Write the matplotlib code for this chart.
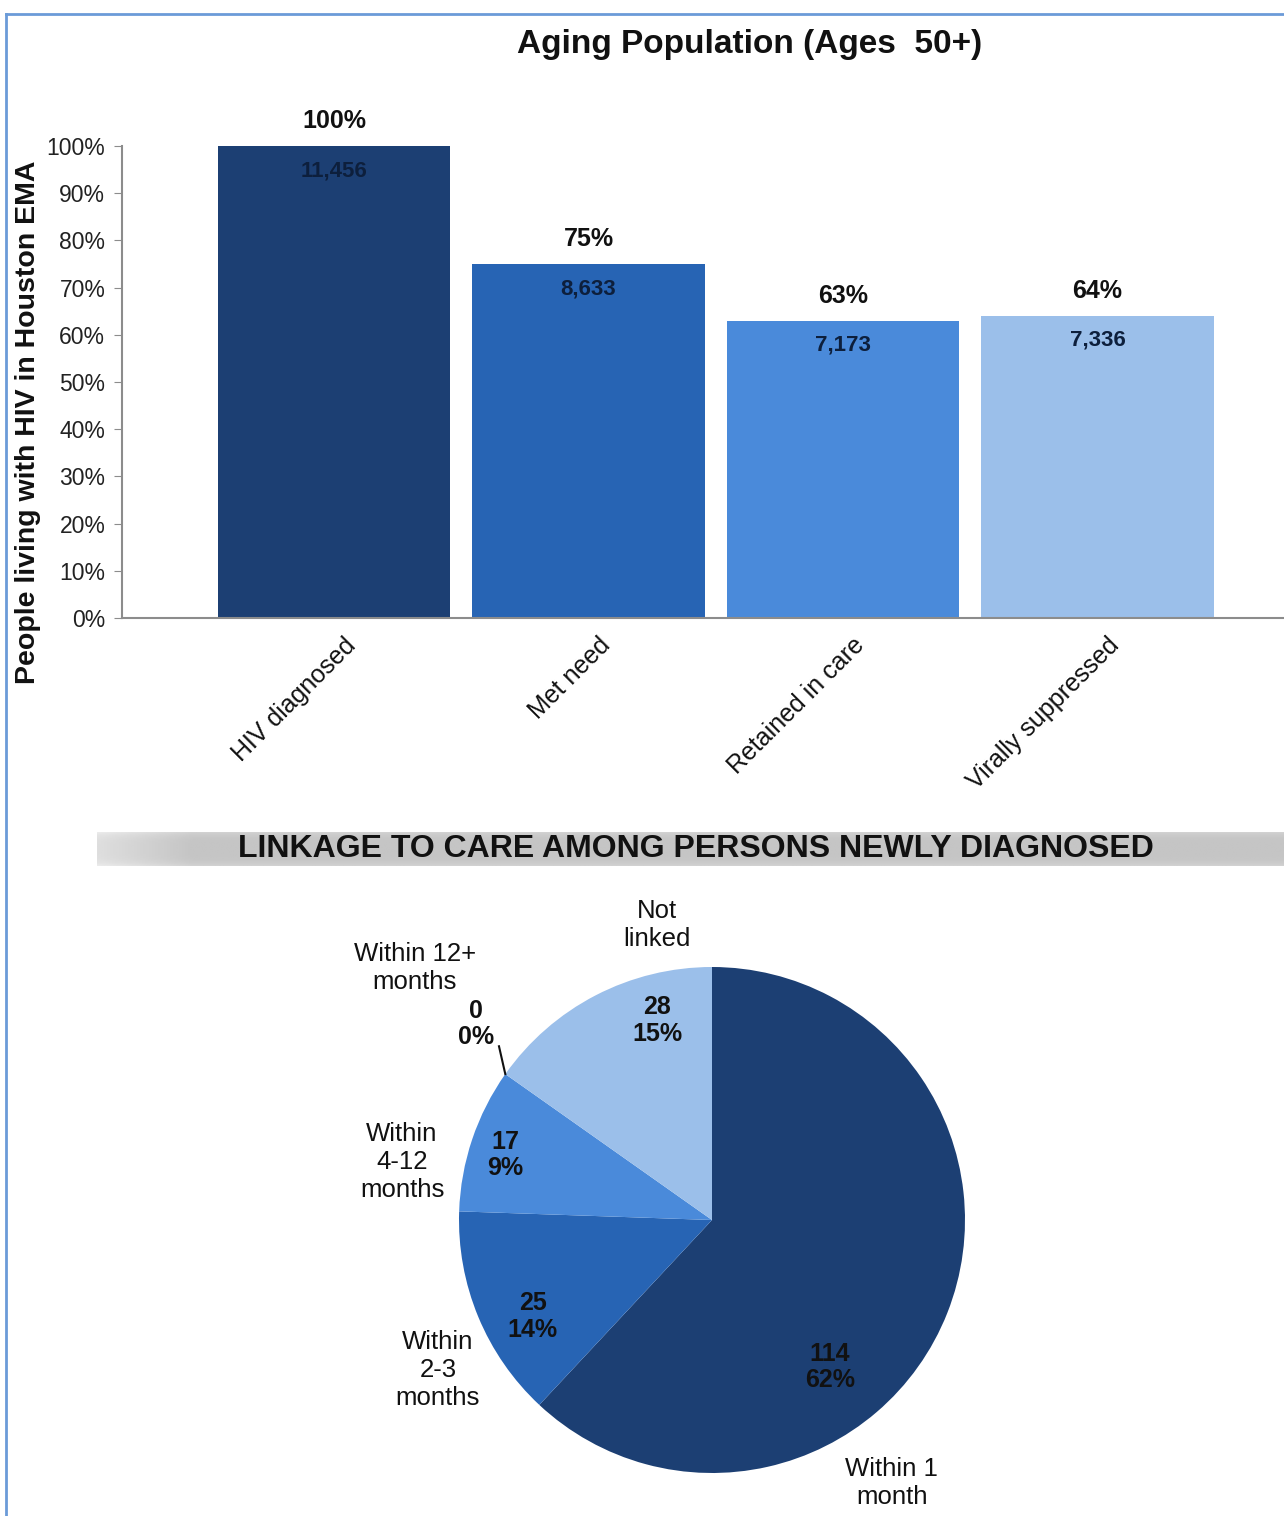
import matplotlib.pyplot as plt
import numpy as np
from matplotlib.lines import Line2D

plt.rcParams['font.family'] = ['Liberation Sans', 'DejaVu Sans']

# care continuum, ages 50+
stages = ['HIV diagnosed', 'Met need', 'Retained in care', 'Virally suppressed']
stage_pct = [100, 75, 63, 64]
stage_counts = [11456, 8633, 7173, 7336]
bar_colors = ['#1c3f73', '#2764b4', '#4a8ada', '#9bbfea']

# linkage to care among newly diagnosed
link_names = ['Within 1\nmonth', 'Within\n2-3\nmonths', 'Within\n4-12\nmonths',
              'Within 12+\nmonths', 'Not\nlinked']
link_counts = [114, 25, 17, 0, 28]
link_pct = [62, 14, 9, 0, 15]
pie_colors = ['#1c3f73', '#2764b4', '#4a8ada', '#4a8ada', '#9bbfea']

W, H = 1284, 1516
fig = plt.figure(figsize=(W / 100, H / 100), dpi=100)


def fx(px):
    return px / W


def fy(py):
    return 1 - py / H


# ---- bar chart ----
ax = fig.add_axes([fx(122), fy(618), 1 - fx(122), fy(146) - fy(618)])
x = np.arange(len(stages))
ax.bar(x, stage_pct, width=0.915, color=bar_colors)
ax.set_xlim(-0.833, 3.733)
ax.set_ylim(0, 100)
ax.set_yticks(range(0, 101, 10))
ax.set_yticklabels([f'{v}%' for v in range(0, 101, 10)], fontsize=16.5, color='#222222')
ax.set_xticks([])
for s in ['top', 'right']:
    ax.spines[s].set_visible(False)
for s in ['left', 'bottom']:
    ax.spines[s].set_color('#8c8c8c')
    ax.spines[s].set_linewidth(1.5)
ax.tick_params(axis='y', length=6, color='#8c8c8c', pad=6)

for i in range(len(stages)):
    ax.text(i, stage_pct[i] + 5.3, f'{stage_pct[i]}%', ha='center', va='center',
            fontsize=18, fontweight='bold', color='#111111')
    ax.text(i, stage_pct[i] - 5.2, f'{stage_counts[i]:,}', ha='center', va='center',
            fontsize=16, fontweight='bold', color='#0d1f3c')
    ax.text(i + 0.07, -5.0, stages[i], rotation=45, rotation_mode='anchor',
            ha='right', va='center', fontsize=18, color='#111111', clip_on=False)

fig.text(fx(28), fy(422), 'People living with HIV in Houston EMA', rotation=90,
         ha='center', va='center', fontsize=20.5, fontweight='bold', color='#111111')
fig.text(fx(750), fy(45), 'Aging Population (Ages  50+)', ha='center', va='center',
         fontsize=24, fontweight='bold', color='#111111')

# ---- header band ----
band = fig.add_axes([fx(97), fy(866), 1 - fx(97), fy(832) - fy(866)])
hx = np.linspace(0, 1, 400)
ramp = 0.77 + 0.10 * np.clip(1 - hx / 0.08, 0, 1)
vy = np.linspace(-1, 1, 30)
shade = 0.05 * vy[:, None] ** 4
grad = np.clip(ramp[None, :] + shade, 0, 1)
band.imshow(grad, cmap='gray', vmin=0, vmax=1, aspect='auto', extent=[0, 1, 0, 1])
band.set_axis_off()
fig.text(fx(696), fy(849), 'LINKAGE TO CARE AMONG PERSONS NEWLY DIAGNOSED',
         ha='center', va='center', fontsize=23, fontweight='bold', color='#111111')

# ---- pie chart ----
cx, cy, r = 712, 1220, 253
pax = fig.add_axes([fx(cx - r), fy(cy + r), 2 * r / W, 2 * r / H])
wedges, _ = pax.pie(link_counts, colors=pie_colors, startangle=90, counterclock=False,
                    radius=1, wedgeprops=dict(linewidth=0))
pax.set_xlim(-1, 1)
pax.set_ylim(-1, 1)
pax.set_aspect('auto')

name_pos = [(0.711, -1.04), (-1.083, -0.593), (-1.225, 0.229), (-1.174, 0.996), (-0.217, 1.166)]
value_pos = [(0.466, -0.581), (-0.708, -0.383), (-0.818, 0.257), (-0.933, 0.775), (-0.217, 0.79)]
for i in range(len(link_counts)):
    pax.text(*name_pos[i], link_names[i], ha='center', va='center', fontsize=18.5,
             color='#111111', linespacing=1.2, clip_on=False)
    pax.text(*value_pos[i], f'{link_counts[i]}\n{link_pct[i]}%', ha='center', va='center',
             fontsize=18, fontweight='bold', color='#111111', linespacing=1.15, clip_on=False)

# leader line for the empty slice
ang = np.deg2rad(wedges[3].theta1)
ex, ey = np.cos(ang), np.sin(ang)
pax.plot([ex, ex - 0.025], [ey, ey + 0.11], color='#111111', lw=1.5, clip_on=False)

# page frame
fig.add_artist(Line2D([fx(6), fx(6)], [0, fy(14)], color='#6b9bd8', lw=2))
fig.add_artist(Line2D([fx(6), 1], [fy(14), fy(14)], color='#6b9bd8', lw=2))

fig.savefig('out.png', dpi=100)
